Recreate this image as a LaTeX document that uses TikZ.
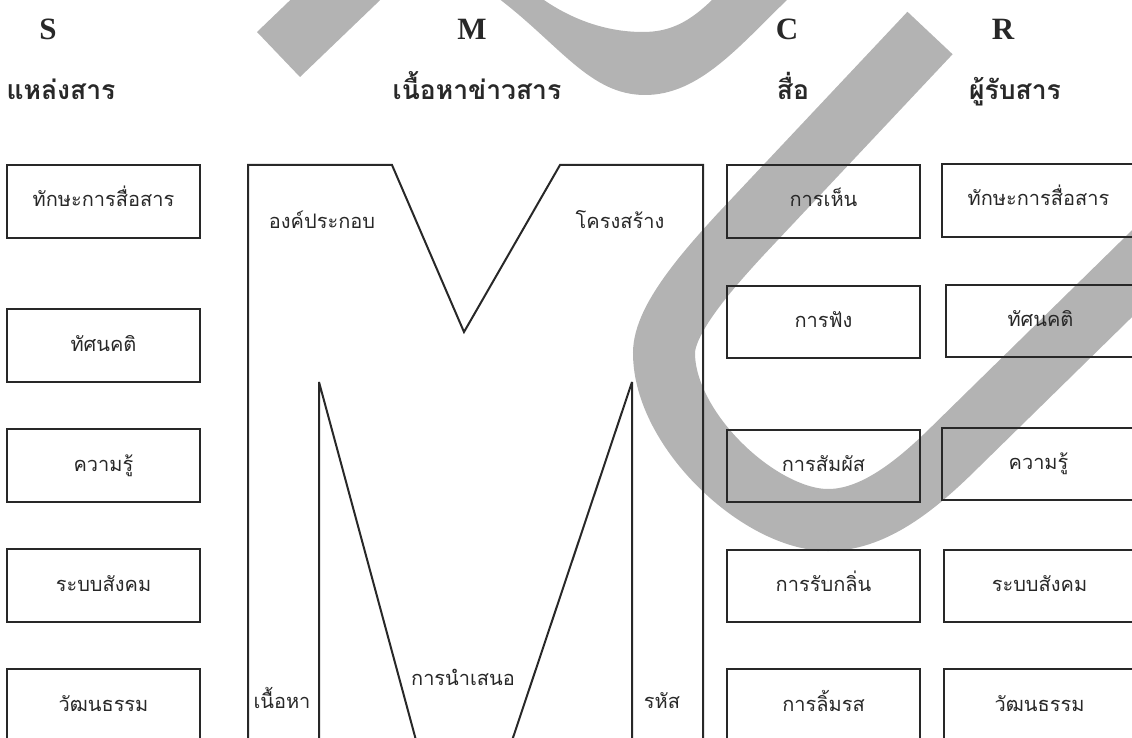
\documentclass[tikz,border=0pt]{standalone}
\usepackage{fontspec}
\setmainfont{Liberation Serif}
\newfontfamily\thai[Script=Thai]{Loma}
\definecolor{wm}{RGB}{179,179,179}
\definecolor{ink}{RGB}{40,40,40}
\tikzset{
  box/.style={draw=ink, line width=2pt, minimum height=73pt, inner sep=0pt,
    text height=11pt, text depth=0pt, font=\thai\fontsize{20}{22}\selectfont, text=ink},
  lbl/.style={anchor=base, inner sep=0pt, font=\thai\fontsize{20}{22}\selectfont, text=ink},
  hdr/.style={anchor=base, inner sep=0pt, font=\bfseries\fontsize{31}{34}\selectfont, text=ink},
  thhdr/.style={anchor=base, inner sep=0pt, font=\thai\bfseries\fontsize{26.5}{30}\selectfont, text=ink},
  mline/.style={draw=ink, line width=2pt, miter limit=3},
}
\begin{document}
\begin{tikzpicture}[x=1pt, y=-1pt]
\useasboundingbox (0,0) rectangle (1132,738);
\clip (0,0) rectangle (1132,738);
% watermark
\fill[wm] (257,32) -- (300,77) -- (400,-19) -- (357,-64) -- cycle;
\fill[wm] (498,-2) .. controls (560,45) and (590,95) .. (645,95)
  .. controls (700,95) and (740,45) .. (789,-2) -- (714,-2)
  .. controls (690,22) and (670,32) .. (643,32)
  .. controls (610,32) and (575,22) .. (541,-2) -- cycle;
\draw[wm, line width=62pt] (930,33) -- (740,235) .. controls (706,272) and (664,320) .. (664,353)
  .. controls (664,430) and (760,520) .. (828,520)
  .. controls (870,520) and (910,491) .. (950,452) -- (1200,207);
% headers
\node[hdr] (hS) at (48,40) {S};
\node[hdr] (hM) at (472,40) {M};
\node[hdr] (hC) at (787,40) {C};
\node[hdr] (hR) at (1003,40) {R};
\node[thhdr] (tS) at (61,100) {แหล่งสาร};
\node[thhdr] (tM) at (477,100) {เนื้อหาข่าวสาร};
\node[thhdr] (tC) at (793,100) {สื่อ};
\node[thhdr] (tR) at (1015,100) {ผู้รับสาร};
% S column
\node[box, minimum width=193pt] (s1) at (103.5,201.5) {ทักษะการสื่อสาร};
\node[box, minimum width=193pt] (s2) at (103.5,345.5) {ทัศนคติ};
\node[box, minimum width=193pt] (s3) at (103.5,465.5) {ความรู้};
\node[box, minimum width=193pt] (s4) at (103.5,585.5) {ระบบสังคม};
\node[box, minimum width=193pt] (s5) at (103.5,705.5) {วัฒนธรรม};
% M shape
\draw[mline] (248,800) -- (248,165) -- (392,165) -- (464,332) -- (560,165) -- (703,165)
  -- (703,800) -- (632,800) -- (632,382) -- (459,899) -- (319,382) -- (319,800) -- cycle;
\node[lbl] (m1) at (322,229) {องค์ประกอบ};
\node[lbl] (m2) at (620,229) {โครงสร้าง};
\node[lbl] (m3) at (282,708) {เนื้อหา};
\node[lbl] (m4) at (463,685) {การนำเสนอ};
\node[lbl] (m5) at (662,708) {รหัส};
% C column
\node[box, minimum width=193pt] (c1) at (823.5,201.5) {การเห็น};
\node[box, minimum width=193pt, minimum height=72pt] (c2) at (823.5,322) {การฟัง};
\node[box, minimum width=193pt, minimum height=72pt] (c3) at (823.5,466) {การสัมผัส};
\node[box, minimum width=193pt, minimum height=72pt] (c4) at (823.5,586) {การรับกลิ่น};
\node[box, minimum width=193pt] (c5) at (823.5,705.5) {การลิ้มรส};
% R column
\node[box, minimum width=193pt] (r1) at (1038.5,200.5) {ทักษะการสื่อสาร};
\node[box, minimum width=189pt, minimum height=72pt] (r2) at (1040.5,321) {ทัศนคติ};
\node[box, minimum width=193pt, minimum height=72pt] (r3) at (1038.5,464) {ความรู้};
\node[box, minimum width=191pt, minimum height=72pt] (r4) at (1039.5,586) {ระบบสังคม};
\node[box, minimum width=191pt] (r5) at (1039.5,705.5) {วัฒนธรรม};
\end{tikzpicture}
\end{document}
